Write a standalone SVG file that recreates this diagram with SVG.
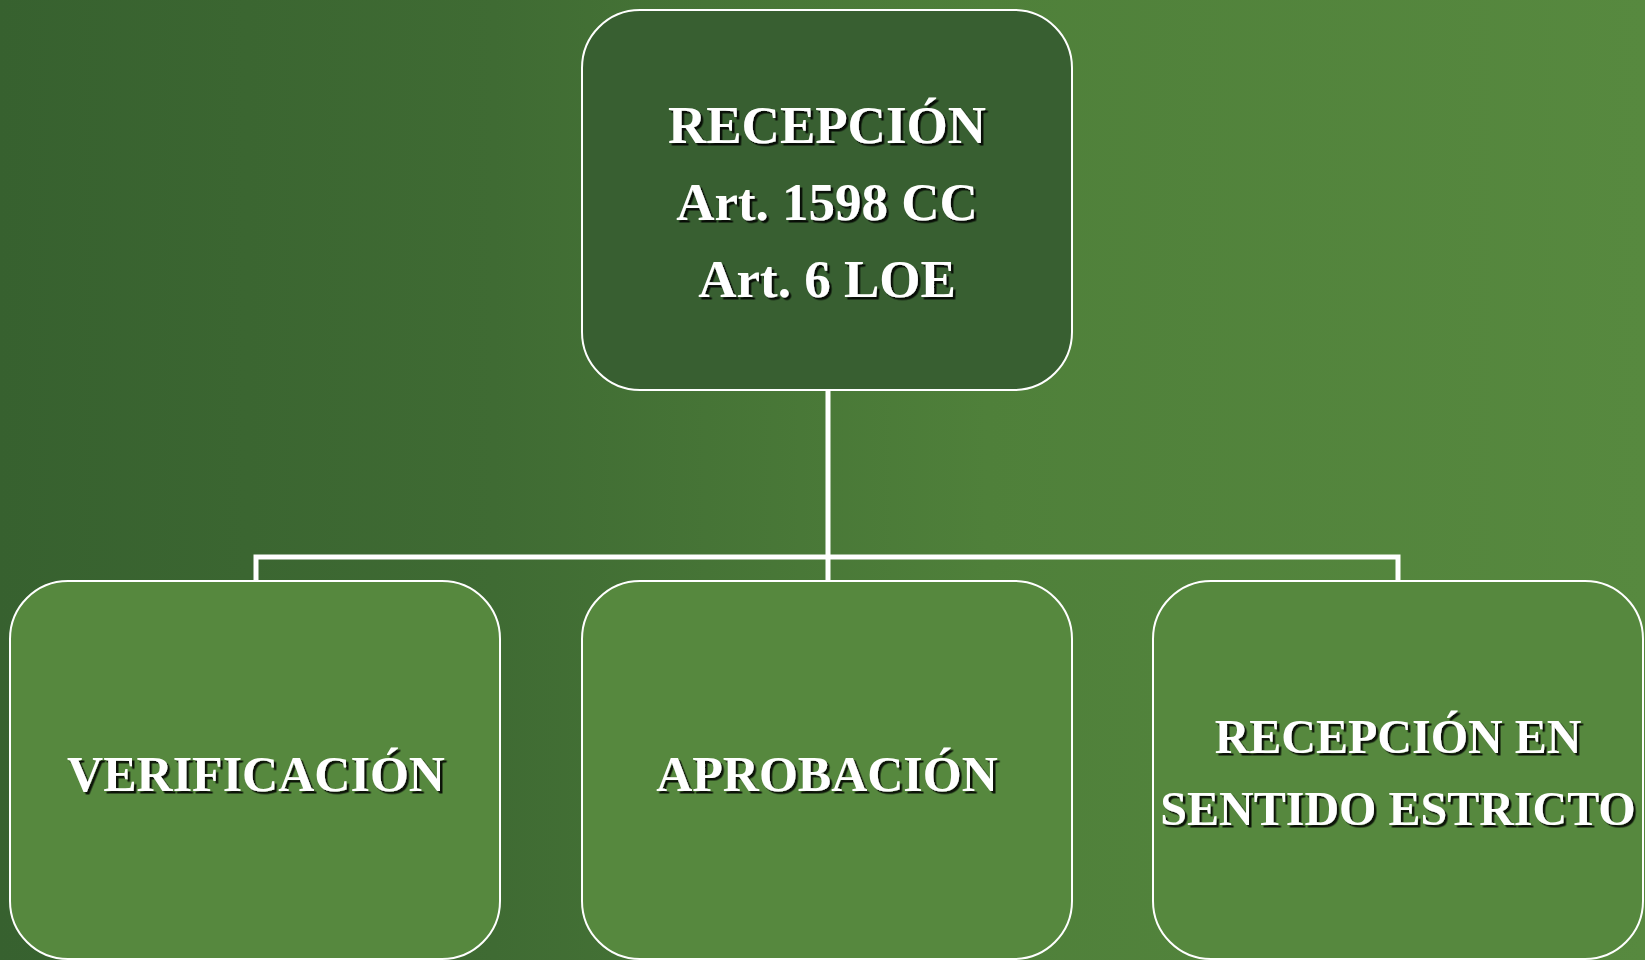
<svg xmlns="http://www.w3.org/2000/svg" width="1645" height="960" viewBox="0 0 1645 960">
<defs>
<linearGradient id="bg" x1="0" y1="0" x2="1" y2="0">
<stop offset="0" stop-color="#37612f"/>
<stop offset="0.3" stop-color="#3f6b33"/>
<stop offset="0.6" stop-color="#4f803a"/>
<stop offset="1" stop-color="#57893f"/>
</linearGradient>
<filter id="sh" x="-10%" y="-10%" width="120%" height="130%">
<feDropShadow dx="2.5" dy="2.5" stdDeviation="0" flood-color="#000" flood-opacity="0.85"/>
</filter>
</defs>
<style>
.box{stroke:#fff;stroke-width:2}
.top{fill:#385f31}
.bot{fill:#56883e}
.t{font-family:"Liberation Serif","Times New Roman",serif;font-weight:bold;fill:#fff;text-anchor:middle;filter:url(#sh)}
.c{fill:none;stroke:#fff;stroke-width:5}
</style>
<rect width="1645" height="960" fill="url(#bg)"/>
<g id="connectors">
<path class="c" d="M828 390 V580 M256 580 V557 H1398 V580"/>
</g>
<g id="n-recepcion">
<rect class="box top" x="582" y="10" width="490" height="380" rx="58"/>
<text class="t" font-size="53" x="827" y="143">RECEPCIÓN</text>
<text class="t" font-size="53" x="827" y="220">Art. 1598 CC</text>
<text class="t" font-size="53" x="827" y="297">Art. 6 LOE</text>
</g>
<g id="n-verificacion">
<rect class="box bot" x="10" y="581" width="490" height="378" rx="58"/>
<text class="t" font-size="50" x="256" y="791">VERIFICACIÓN</text>
</g>
<g id="n-aprobacion">
<rect class="box bot" x="582" y="581" width="490" height="378" rx="58"/>
<text class="t" font-size="50" x="827" y="791">APROBACIÓN</text>
</g>
<g id="n-estricto">
<rect class="box bot" x="1153" y="581" width="490" height="378" rx="58"/>
<text class="t" font-size="48" x="1398" y="753">RECEPCIÓN EN</text>
<text class="t" font-size="48" x="1398" y="825">SENTIDO ESTRICTO</text>
</g>
</svg>
